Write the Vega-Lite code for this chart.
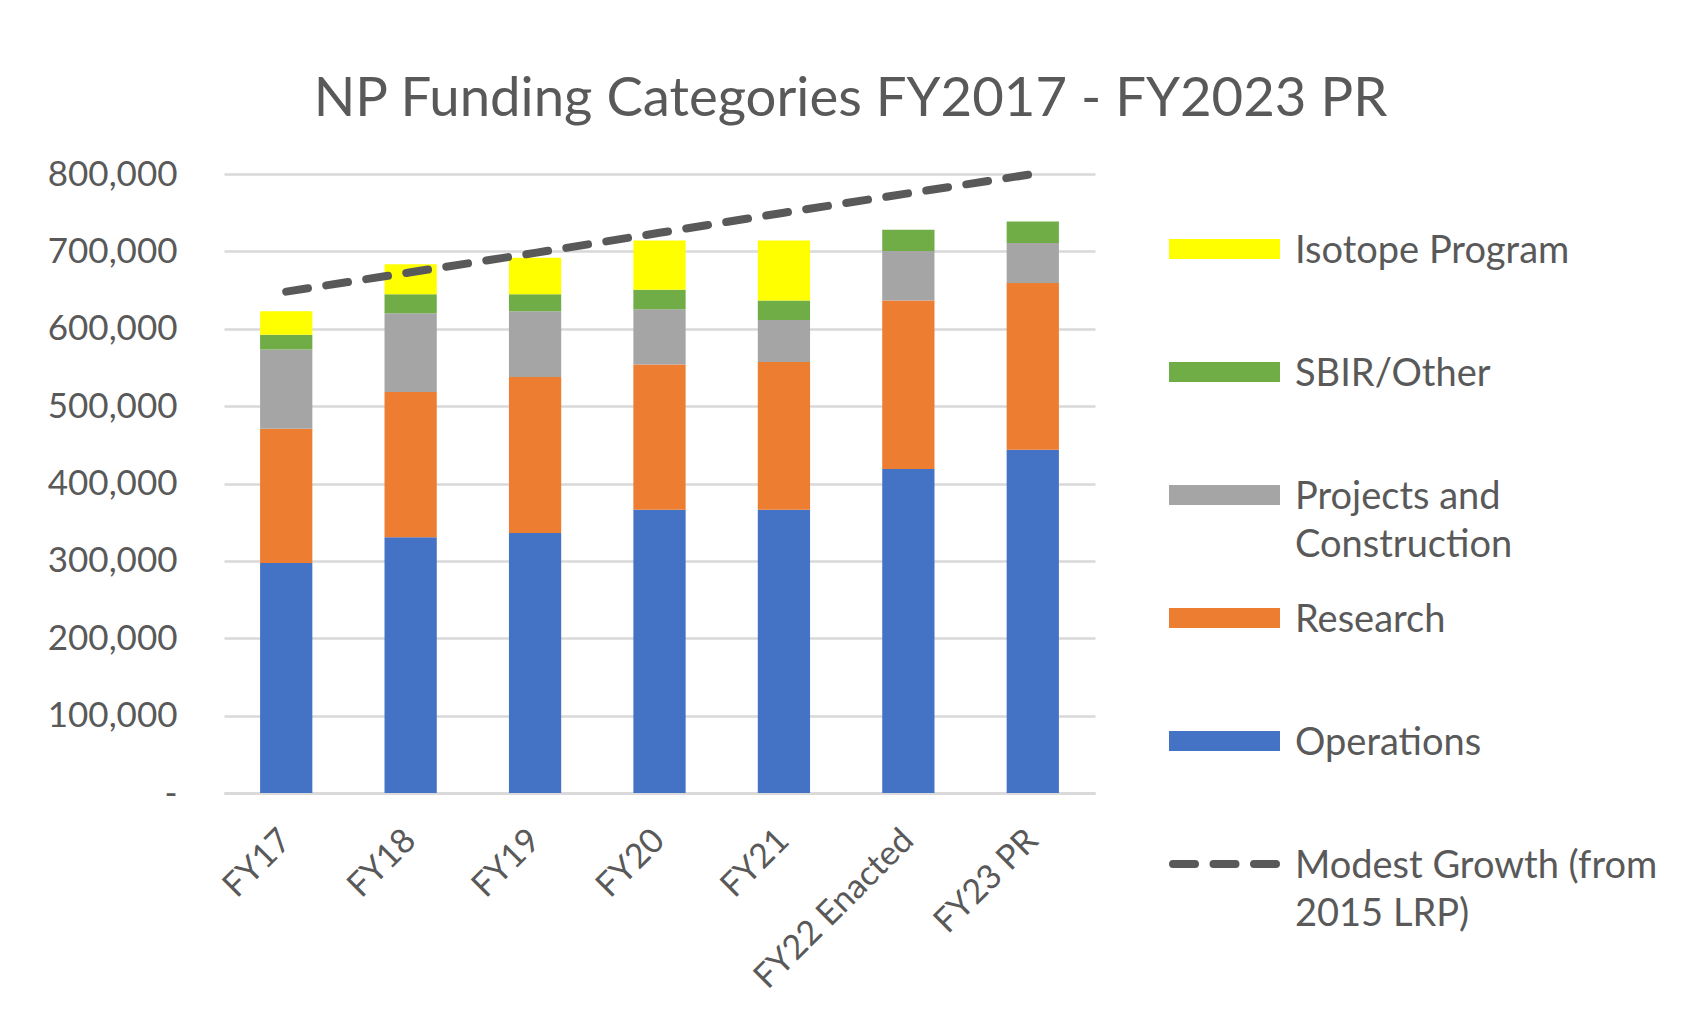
{
  "$schema": "https://vega.github.io/schema/vega-lite/v6.json",
  "width": 871,
  "height": 619,
  "autosize": {"type": "none"},
  "padding": {"left": 224, "top": 174, "right": 589, "bottom": 240},
  "background": "white",
  "title": {
    "text": "NP Funding Categories FY2017 - FY2023 PR",
    "font": "Lato",
    "fontSize": 54.5,
    "fontWeight": "normal",
    "color": "#595959",
    "anchor": "middle",
    "frame": "group",
    "dx": 191,
    "offset": -13,
    "baseline": "alphabetic"
  },
  "datasets": {
    "bars": [
      {"year": "FY17", "category": "Operations", "amount": 297300},
      {"year": "FY17", "category": "Research", "amount": 173600},
      {"year": "FY17", "category": "Projects and Construction", "amount": 102200},
      {"year": "FY17", "category": "SBIR/Other", "amount": 19300},
      {"year": "FY17", "category": "Isotope Program", "amount": 30100},
      {"year": "FY18", "category": "Operations", "amount": 330600},
      {"year": "FY18", "category": "Research", "amount": 187600},
      {"year": "FY18", "category": "Projects and Construction", "amount": 101700},
      {"year": "FY18", "category": "SBIR/Other", "amount": 24700},
      {"year": "FY18", "category": "Isotope Program", "amount": 38700},
      {"year": "FY19", "category": "Operations", "amount": 336000},
      {"year": "FY19", "category": "Research", "amount": 201600},
      {"year": "FY19", "category": "Projects and Construction", "amount": 84900},
      {"year": "FY19", "category": "SBIR/Other", "amount": 22100},
      {"year": "FY19", "category": "Isotope Program", "amount": 47300},
      {"year": "FY20", "category": "Operations", "amount": 366100},
      {"year": "FY20", "category": "Research", "amount": 187600},
      {"year": "FY20", "category": "Projects and Construction", "amount": 71500},
      {"year": "FY20", "category": "SBIR/Other", "amount": 25300},
      {"year": "FY20", "category": "Isotope Program", "amount": 63400},
      {"year": "FY21", "category": "Operations", "amount": 366100},
      {"year": "FY21", "category": "Research", "amount": 190900},
      {"year": "FY21", "category": "Projects and Construction", "amount": 54200},
      {"year": "FY21", "category": "SBIR/Other", "amount": 25300},
      {"year": "FY21", "category": "Isotope Program", "amount": 77400},
      {"year": "FY22 Enacted", "category": "Operations", "amount": 418800},
      {"year": "FY22 Enacted", "category": "Research", "amount": 217700},
      {"year": "FY22 Enacted", "category": "Projects and Construction", "amount": 64000},
      {"year": "FY22 Enacted", "category": "SBIR/Other", "amount": 27400},
      {"year": "FY23 PR", "category": "Operations", "amount": 443500},
      {"year": "FY23 PR", "category": "Research", "amount": 215600},
      {"year": "FY23 PR", "category": "Projects and Construction", "amount": 51600},
      {"year": "FY23 PR", "category": "SBIR/Other", "amount": 28000}
    ],
    "growth": [
      {"year": "FY17", "series": "Modest Growth (from 2015 LRP)", "amount": 648000},
      {"year": "FY18", "series": "Modest Growth (from 2015 LRP)", "amount": 673000},
      {"year": "FY19", "series": "Modest Growth (from 2015 LRP)", "amount": 698000},
      {"year": "FY20", "series": "Modest Growth (from 2015 LRP)", "amount": 724000},
      {"year": "FY21", "series": "Modest Growth (from 2015 LRP)", "amount": 750000},
      {"year": "FY22 Enacted", "series": "Modest Growth (from 2015 LRP)", "amount": 775000},
      {"year": "FY23 PR", "series": "Modest Growth (from 2015 LRP)", "amount": 800000}
    ]
  },
  "layer": [
    {
      "data": {"name": "bars"},
      "transform": [
        {"calculate": "indexof(['Operations','Research','Projects and Construction','SBIR/Other','Isotope Program'], datum.category)", "as": "stackOrder"}
      ],
      "mark": {"type": "bar"},
      "encoding": {
        "x": {
          "field": "year",
          "type": "nominal",
          "sort": ["FY17", "FY18", "FY19", "FY20", "FY21", "FY22 Enacted", "FY23 PR"],
          "scale": {"domain": ["FY17", "FY18", "FY19", "FY20", "FY21", "FY22 Enacted", "FY23 PR"], "paddingInner": 0.58, "paddingOuter": 0.29},
          "axis": {
            "title": null,
            "labelAngle": -45,
            "labelAlign": "right",
            "labelBaseline": "middle",
            "labelPadding": 42,
            "labelLimit": 500,
            "labelFont": "Lato",
            "labelFontSize": 34,
            "labelColor": "#595959",
            "ticks": false,
            "domain": true,
            "domainColor": "#d9d9d9",
            "domainWidth": 2.5,
            "grid": false
          }
        },
        "y": {
          "field": "amount",
          "type": "quantitative",
          "stack": "zero",
          "scale": {"domain": [0, 800000], "nice": false},
          "axis": {
            "title": null,
            "values": [0, 100000, 200000, 300000, 400000, 500000, 600000, 700000, 800000],
            "labelExpr": "datum.value == 0 ? '-' : format(datum.value, ',')",
            "labelFont": "Lato",
            "labelFontSize": 35,
            "labelColor": "#595959",
            "labelPadding": 47,
            "ticks": false,
            "domain": false,
            "grid": true,
            "gridColor": "#d9d9d9",
            "gridWidth": 2.5
          }
        },
        "color": {
          "field": "category",
          "type": "nominal",
          "scale": {
            "domain": ["Isotope Program", "SBIR/Other", "Projects and Construction", "Research", "Operations"],
            "range": ["#FFFF00", "#70AD47", "#A5A5A5", "#ED7D31", "#4472C4"]
          },
          "legend": {
            "orient": "none",
            "legendX": 948,
            "legendY": 22.5,
            "title": null,
            "padding": 0,
            "symbolType": "M-1.057,-0.19H1.057V0.19H-1.057Z",
            "symbolSize": 11025,
            "symbolStrokeWidth": 0,
            "symbolOpacity": 1,
            "labelFont": "Lato",
            "labelFontSize": 38,
            "labelColor": "#595959",
            "labelOffset": 18,
            "labelLimit": 600,
            "rowPadding": 0,
            "gridAlign": "all",
            "labelExpr": "datum.label == 'Projects and Construction' ? ['Projects and', 'Construction'] : datum.label",
            "encode": {
              "labels": {"update": {"baseline": {"value": "top"}, "dy": {"value": -16}, "lineHeight": {"value": 48}}}
            }
          }
        },
        "order": {"field": "stackOrder", "type": "quantitative", "sort": "ascending"}
      }
    },
    {
      "data": {"name": "growth"},
      "mark": {"type": "line", "color": "#595959", "strokeWidth": 8, "strokeCap": "round"},
      "encoding": {
        "x": {"field": "year", "type": "nominal", "sort": ["FY17", "FY18", "FY19", "FY20", "FY21", "FY22 Enacted", "FY23 PR"]},
        "y": {"field": "amount", "type": "quantitative"},
        "strokeDash": {
          "field": "series",
          "type": "nominal",
          "scale": {"range": [[22, 18.5]]},
          "legend": {
            "orient": "none",
            "legendX": 945,
            "legendY": 634.5,
            "title": null,
            "padding": 0,
            "symbolType": "stroke",
            "symbolSize": 10609,
            "symbolStrokeWidth": 8,
            "symbolStrokeColor": "#595959",
            "labelFont": "Lato",
            "labelFontSize": 38,
            "labelColor": "#595959",
            "labelOffset": 15,
            "labelLimit": 600,
            "labelExpr": "['Modest Growth (from', '2015 LRP)']",
            "encode": {
              "symbols": {"update": {"strokeCap": {"value": "round"}}},
              "labels": {"update": {"baseline": {"value": "top"}, "dy": {"value": -16}, "lineHeight": {"value": 48}}}
            }
          }
        }
      }
    }
  ],
  "config": {
    "view": {"stroke": null}
  }
}
